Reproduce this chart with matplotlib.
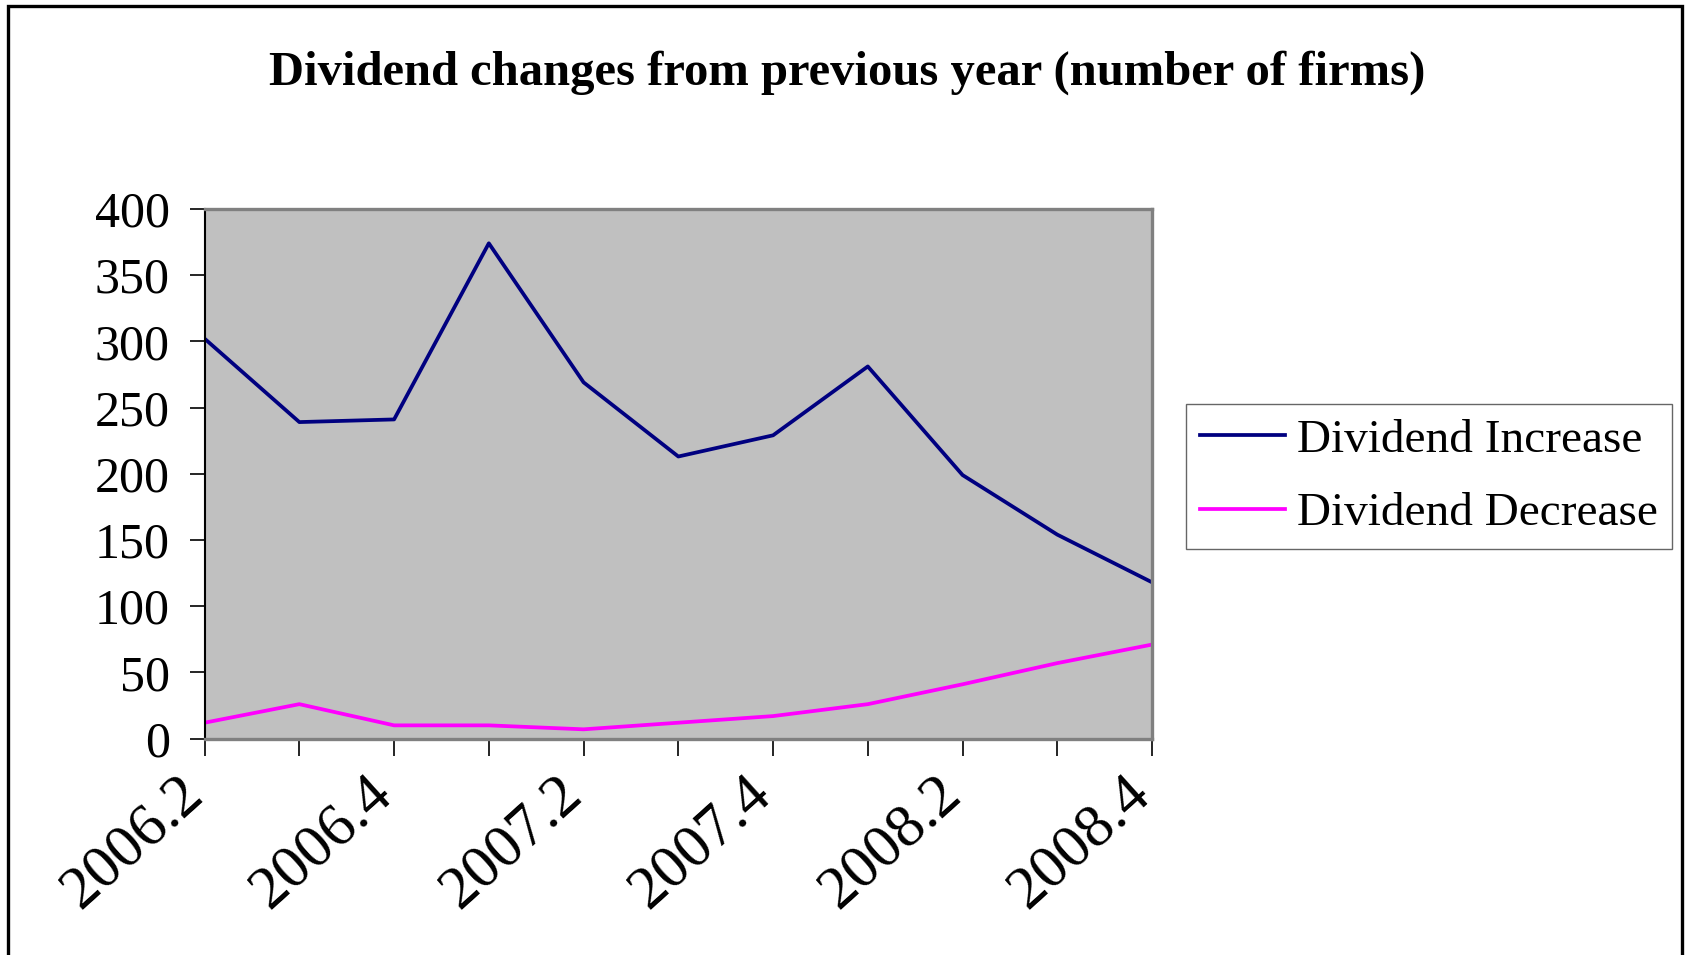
import matplotlib
matplotlib.use("Agg")
import matplotlib.pyplot as plt
from matplotlib.patches import Rectangle

quarters = ["2006.2", "2006.3", "2006.4", "2007.1", "2007.2", "2007.3",
            "2007.4", "2008.1", "2008.2", "2008.3", "2008.4"]
increase = [302, 239, 241, 374, 269, 213, 229, 281, 199, 154, 118]
decrease = [12, 26, 10, 10, 7, 12, 17, 26, 41, 57, 71]

plt.rcParams["font.family"] = ["Liberation Serif", "DejaVu Serif"]

fig = plt.figure(figsize=(16.88, 9.55), dpi=100)
ax = fig.add_axes([0.1212, 0.2266, 0.5613, 0.5547])

x = list(range(len(quarters)))
ax.set_facecolor("#C0C0C0")
ax.plot(x, increase, color="#000080", lw=2.7, label="Dividend Increase")
ax.plot(x, decrease, color="#FF00FF", lw=2.7, label="Dividend Decrease")

ax.set_xlim(0, len(quarters) - 1)
ax.set_ylim(0, 400)
ax.set_yticks(range(0, 401, 50))
ax.tick_params(axis="y", labelsize=36, length=11, width=1.2, pad=14, direction="out")
ax.set_xticks(x)
# every other quarter gets a slanted label
ax.set_xticklabels([q if i % 2 == 0 else "" for i, q in enumerate(quarters)],
                   rotation=42, ha="right", va="baseline", rotation_mode="anchor")
ax.tick_params(axis="x", labelsize=44, length=12, width=1.2, pad=30, direction="out")

for side in ("top", "right", "bottom"):
    ax.spines[side].set_color("#808080")
    ax.spines[side].set_linewidth(2.4)
ax.spines["left"].set_color("black")
ax.spines["left"].set_linewidth(1.5)

fig.text(0.502, 0.924, "Dividend changes from previous year (number of firms)",
         ha="center", va="center", fontsize=35, fontweight="bold")

leg = ax.legend(loc="center left", bbox_to_anchor=(1.036, 0.494), fontsize=34,
                frameon=True, fancybox=False, handlelength=1.8, handletextpad=0.25,
                borderpad=0.3, labelspacing=0.65, borderaxespad=0)
leg.get_frame().set_edgecolor("#404040")
leg.get_frame().set_linewidth(1.0)
for line in leg.get_lines():
    line.set_linewidth(2.7)

# chart border, open at the bottom edge
fig.patches.append(Rectangle((0.005, -0.05), 0.9917, 1.0432, transform=fig.transFigure,
                             fill=False, edgecolor="black", linewidth=2.4))

fig.savefig("out.png", dpi=100)
